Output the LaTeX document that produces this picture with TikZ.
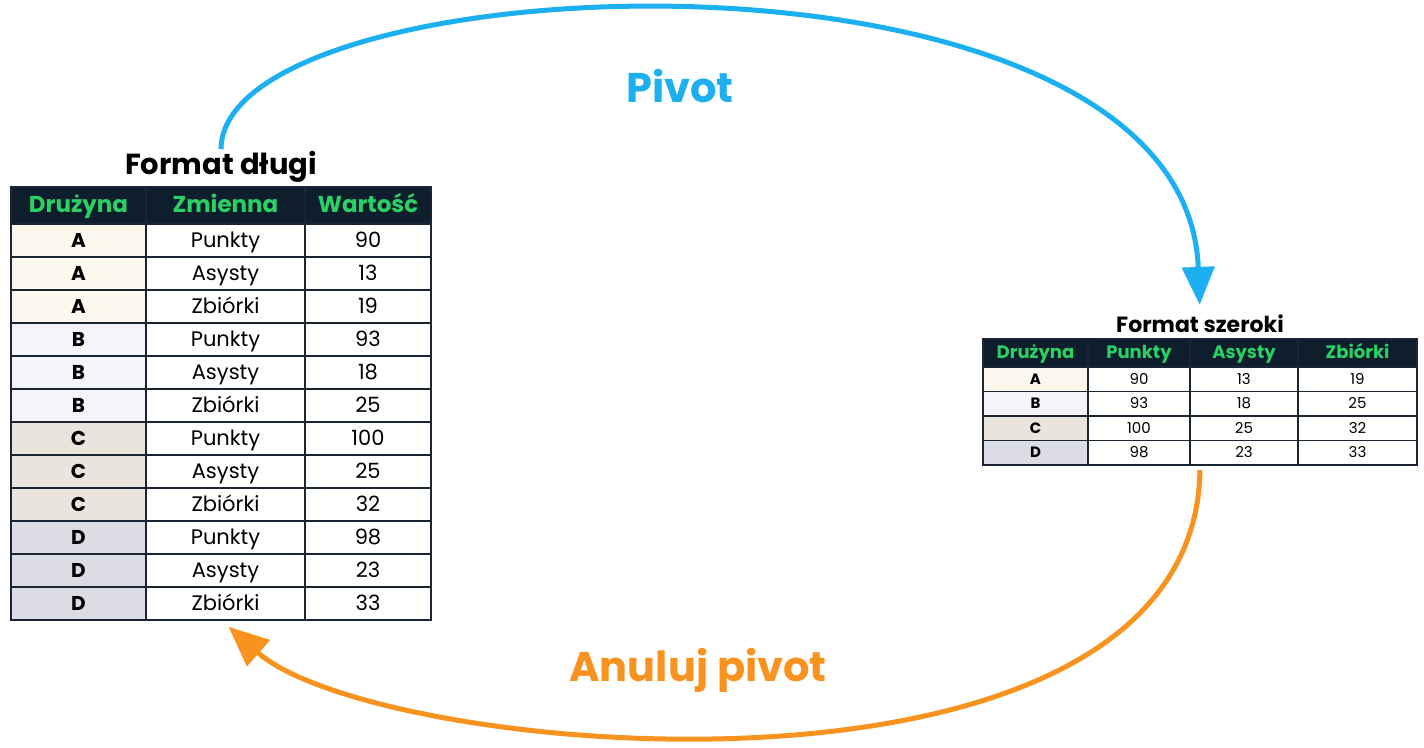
\documentclass[tikz,border=0pt]{standalone}
\usepackage{fontspec}
\setmainfont{Poppins}
\usepackage{xcolor}
\usetikzlibrary{arrows.meta, positioning, fit}

\definecolor{pivotblue}{HTML}{1CB0F0}
\definecolor{unpivotorange}{HTML}{F7931E}
\definecolor{headbg}{HTML}{0F1E2C}
\definecolor{headgreen}{HTML}{2AD164}
\definecolor{gridline}{HTML}{1B2433}
\definecolor{teamA}{HTML}{FDF8EE}
\definecolor{teamB}{HTML}{F4F4FA}
\definecolor{teamC}{HTML}{E9E5DD}
\definecolor{teamD}{HTML}{DCDCE5}

\tikzset{
  tbl/.style={
    rectangle, draw=gridline, line width=1.2pt,
    inner sep=0pt, outer sep=0pt, align=center
  },
  % long table
  lhead/.style={tbl, fill=headbg, text=headgreen, minimum height=37pt,
    text height=17pt, text depth=4pt,
    font=\fontsize{23pt}{27pt}\selectfont\bfseries},
  lcell/.style={tbl, fill=white, minimum height=33pt,
    text height=17pt, text depth=2.5pt,
    font=\fontsize{21pt}{25pt}\selectfont},
  lteam/.style={lcell, font=\fontsize{20pt}{24pt}\selectfont\bfseries},
  colA/.style={minimum width=135pt},
  colB/.style={minimum width=159pt},
  colC/.style={minimum width=126pt},
  % wide table
  shead/.style={tbl, fill=headbg, text=headgreen, minimum height=28pt,
    text height=13pt, text depth=3pt,
    font=\fontsize{18pt}{21pt}\selectfont\bfseries},
  scell/.style={tbl, fill=white, minimum height=24.5pt,
    text height=12pt, text depth=2.5pt,
    font=\fontsize{15pt}{18pt}\selectfont},
  steam/.style={scell, font=\fontsize{15pt}{18pt}\selectfont\bfseries},
  scolA/.style={minimum width=105pt},
  scolB/.style={minimum width=102pt},
  scolC/.style={minimum width=108pt},
  scolD/.style={minimum width=119pt},
  title/.style={inner sep=2pt, font=\bfseries},
  pivotline/.style={draw=pivotblue, line width=5pt,
    -{Triangle[length=38pt, width=32pt]}, shorten >=8pt},
  unpivotline/.style={draw=unpivotorange, line width=5pt,
    -{Triangle[length=40pt, width=34pt]}, shorten <=5pt, shorten >=10pt},
}

\begin{document}
\begin{tikzpicture}[x=1pt, y=-1pt]
  \fill[white] (0,0) rectangle (1424,747);
  \useasboundingbox (0,0) rectangle (1424,747);

  % long format
  \node[title, font=\fontsize{29pt}{33pt}\selectfont\bfseries] (ltitle) at (221,167) {Format długi};

  \node[lhead, colA] (lh1) at (78.5,205.5) {Drużyna};
  \node[lhead, colB, right=0pt of lh1] (lh2) {Zmienna};
  \node[lhead, colC, right=0pt of lh2] (lh3) {Wartość};

  \node[lteam, colA, fill=teamA, below=0pt of lh1] (ld1) {A};
  \node[lcell, colB, right=0pt of ld1] (lz1) {Punkty};
  \node[lcell, colC, right=0pt of lz1] (lw1) {90};
  \node[lteam, colA, fill=teamA, below=0pt of ld1] (ld2) {A};
  \node[lcell, colB, right=0pt of ld2] (lz2) {Asysty};
  \node[lcell, colC, right=0pt of lz2] (lw2) {13};
  \node[lteam, colA, fill=teamA, below=0pt of ld2] (ld3) {A};
  \node[lcell, colB, right=0pt of ld3] (lz3) {Zbiórki};
  \node[lcell, colC, right=0pt of lz3] (lw3) {19};
  \node[lteam, colA, fill=teamB, below=0pt of ld3] (ld4) {B};
  \node[lcell, colB, right=0pt of ld4] (lz4) {Punkty};
  \node[lcell, colC, right=0pt of lz4] (lw4) {93};
  \node[lteam, colA, fill=teamB, below=0pt of ld4] (ld5) {B};
  \node[lcell, colB, right=0pt of ld5] (lz5) {Asysty};
  \node[lcell, colC, right=0pt of lz5] (lw5) {18};
  \node[lteam, colA, fill=teamB, below=0pt of ld5] (ld6) {B};
  \node[lcell, colB, right=0pt of ld6] (lz6) {Zbiórki};
  \node[lcell, colC, right=0pt of lz6] (lw6) {25};
  \node[lteam, colA, fill=teamC, below=0pt of ld6] (ld7) {C};
  \node[lcell, colB, right=0pt of ld7] (lz7) {Punkty};
  \node[lcell, colC, right=0pt of lz7] (lw7) {100};
  \node[lteam, colA, fill=teamC, below=0pt of ld7] (ld8) {C};
  \node[lcell, colB, right=0pt of ld8] (lz8) {Asysty};
  \node[lcell, colC, right=0pt of lz8] (lw8) {25};
  \node[lteam, colA, fill=teamC, below=0pt of ld8] (ld9) {C};
  \node[lcell, colB, right=0pt of ld9] (lz9) {Zbiórki};
  \node[lcell, colC, right=0pt of lz9] (lw9) {32};
  \node[lteam, colA, fill=teamD, below=0pt of ld9] (ld10) {D};
  \node[lcell, colB, right=0pt of ld10] (lz10) {Punkty};
  \node[lcell, colC, right=0pt of lz10] (lw10) {98};
  \node[lteam, colA, fill=teamD, below=0pt of ld10] (ld11) {D};
  \node[lcell, colB, right=0pt of ld11] (lz11) {Asysty};
  \node[lcell, colC, right=0pt of lz11] (lw11) {23};
  \node[lteam, colA, fill=teamD, below=0pt of ld11] (ld12) {D};
  \node[lcell, colB, right=0pt of ld12] (lz12) {Zbiórki};
  \node[lcell, colC, right=0pt of lz12] (lw12) {33};

  \node[fit=(lh1)(lw12), inner sep=0pt] (long) {};

  % wide format
  \node[title, font=\fontsize{22pt}{26pt}\selectfont\bfseries] (stitle) at (1200,324) {Format szeroki};

  \node[shead, scolA] (sh1) at (1035.5,353) {Drużyna};
  \node[shead, scolB, right=0pt of sh1] (sh2) {Punkty};
  \node[shead, scolC, right=0pt of sh2] (sh3) {Asysty};
  \node[shead, scolD, right=0pt of sh3] (sh4) {Zbiórki};

  \node[steam, scolA, fill=teamA, below=0pt of sh1] (sd1) {A};
  \node[scell, scolB, right=0pt of sd1] (sp1) {90};
  \node[scell, scolC, right=0pt of sp1] (sa1) {13};
  \node[scell, scolD, right=0pt of sa1] (sz1) {19};
  \node[steam, scolA, fill=teamB, below=0pt of sd1] (sd2) {B};
  \node[scell, scolB, right=0pt of sd2] (sp2) {93};
  \node[scell, scolC, right=0pt of sp2] (sa2) {18};
  \node[scell, scolD, right=0pt of sa2] (sz2) {25};
  \node[steam, scolA, fill=teamC, below=0pt of sd2] (sd3) {C};
  \node[scell, scolB, right=0pt of sd3] (sp3) {100};
  \node[scell, scolC, right=0pt of sp3] (sa3) {25};
  \node[scell, scolD, right=0pt of sa3] (sz3) {32};
  \node[steam, scolA, fill=teamD, below=0pt of sd3] (sd4) {D};
  \node[scell, scolB, right=0pt of sd4] (sp4) {98};
  \node[scell, scolC, right=0pt of sp4] (sa4) {23};
  \node[scell, scolD, right=0pt of sa4] (sz4) {33};

  \node[fit=(sh1)(sz4), inner sep=0pt] (wide) {};

  % arrows
  \draw[pivotline] (ltitle.north) .. controls (222,-40) and (1185,-80) .. (stitle.north);
  \draw[unpivotline] (wide.south) .. controls (1195,830) and (380,760) .. (long.south);

  \node[text=pivotblue, font=\fontsize{41.5pt}{47pt}\selectfont\bfseries] (pivot) at (680,86) {Pivot};
  \node[text=unpivotorange, font=\fontsize{41.5pt}{47pt}\selectfont\bfseries] (unpivot) at (698,670) {Anuluj pivot};
\end{tikzpicture}
\end{document}
